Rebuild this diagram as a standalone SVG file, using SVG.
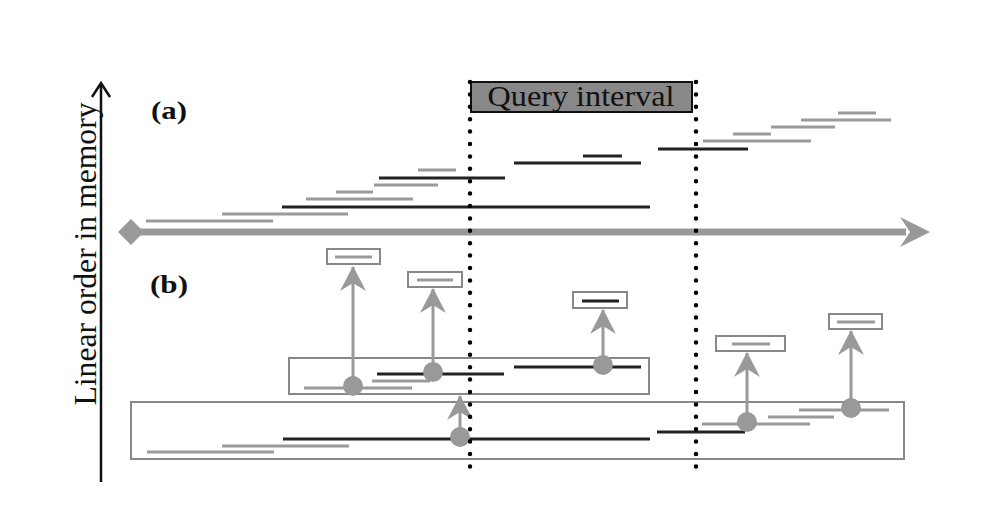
<svg xmlns="http://www.w3.org/2000/svg" width="1000" height="517" viewBox="0 0 1000 517">
<defs>
<style>
.g{stroke:#9a9a9a;stroke-width:3;fill:none}
.k{stroke:#222;stroke-width:3;fill:none}
.box{stroke:#888;stroke-width:2;fill:#fff}
.dot{stroke:#000;stroke-width:4.5;stroke-linecap:round;stroke-dasharray:0 12.4;fill:none}
.up{stroke:#999;stroke-width:3;fill:none}
.txt{font-family:"Liberation Serif","Times New Roman",serif;fill:#111}
</style>
<marker id="ah" viewBox="0 0 26 26" refX="24" refY="13" markerWidth="26" markerHeight="26" markerUnits="userSpaceOnUse" orient="auto">
<path d="M25,13 L0,0 L8,13 L0,26 Z" fill="#999"/>
</marker>
</defs>
<rect width="1000" height="517" fill="#fff"/>

<g id="y-axis">
<line x1="101" y1="482" x2="101" y2="84" stroke="#111" stroke-width="2.5"/>
<polyline points="92,97 101,83 110,97" fill="none" stroke="#111" stroke-width="2.5"/>
<text class="txt" transform="translate(96,254) rotate(-90)" text-anchor="middle" font-size="31" textLength="303" lengthAdjust="spacingAndGlyphs">Linear order in memory</text>
</g>

<g id="x-axis">
<line x1="131" y1="232" x2="906" y2="232" stroke="#999" stroke-width="7"/>
<path d="M930,232 L900,217 L910,232 L900,247 Z" fill="#999"/>
<path d="M118,232 L131,219 L144,232 L131,245 Z" fill="#999"/>
</g>

<g id="label-a"><text class="txt" x="151" y="119" font-size="26" font-weight="bold" textLength="36" lengthAdjust="spacingAndGlyphs">(a)</text></g>
<g id="label-b"><text class="txt" x="150" y="293" font-size="26" font-weight="bold" textLength="38" lengthAdjust="spacingAndGlyphs">(b)</text></g>

<g id="query-interval">
<rect x="471" y="82" width="221" height="30" fill="#888" stroke="#111" stroke-width="2"/>
<text class="txt" x="581" y="106" font-size="30" text-anchor="middle" textLength="187" lengthAdjust="spacingAndGlyphs">Query interval</text>
</g>

<g id="part-a-intervals">
<line class="g" x1="146" y1="221" x2="273" y2="221"/>
<line class="g" x1="222" y1="214" x2="348" y2="214"/>
<line class="k" x1="282" y1="207" x2="650" y2="207"/>
<line class="g" x1="306" y1="199" x2="413" y2="199"/>
<line class="g" x1="336" y1="192" x2="373" y2="192"/>
<line class="g" x1="374" y1="185" x2="438" y2="185"/>
<line class="k" x1="379" y1="178" x2="505" y2="178"/>
<line class="g" x1="418" y1="170" x2="456" y2="170"/>
<line class="k" x1="514" y1="163" x2="641" y2="163"/>
<line class="k" x1="583" y1="156" x2="622" y2="156" stroke="#444"/>
<line class="k" x1="658" y1="149" x2="748" y2="149"/>
<line class="g" x1="703" y1="141" x2="811" y2="141"/>
<line class="g" x1="733" y1="134" x2="771" y2="134"/>
<line class="g" x1="771" y1="127" x2="835" y2="127"/>
<line class="g" x1="801" y1="120" x2="891" y2="120"/>
<line class="g" x1="838" y1="113" x2="876" y2="113"/>
</g>

<g id="node-block-lower">
<rect class="box" x="131" y="402" width="773" height="57"/>
<line class="g" x1="147" y1="452" x2="274" y2="452"/>
<line class="g" x1="222" y1="446" x2="349" y2="446"/>
<line class="k" x1="283" y1="439" x2="650" y2="439"/>
<line class="k" x1="657" y1="432" x2="745" y2="432"/>
<line class="g" x1="702" y1="424" x2="810" y2="424"/>
<line class="g" x1="768" y1="417" x2="834" y2="417"/>
<line class="g" x1="799" y1="410" x2="889" y2="410"/>
</g>

<g id="node-block-upper">
<rect class="box" x="289" y="358" width="360" height="36"/>
<line class="g" x1="304" y1="388" x2="412" y2="388"/>
<line class="g" x1="372" y1="381" x2="430" y2="381"/>
<line class="k" x1="377" y1="374" x2="504" y2="374"/>
<line class="k" x1="514" y1="367" x2="641" y2="367"/>
</g>

<g id="node-leaf-1"><rect class="box" x="327" y="249" width="53" height="15"/><line class="g" x1="335" y1="257" x2="372" y2="257"/></g>
<g id="node-leaf-2"><rect class="box" x="408" y="272" width="54" height="15"/><line class="g" x1="417" y1="280" x2="453" y2="280"/></g>
<g id="node-leaf-3"><rect class="box" x="573" y="292" width="54" height="16"/><line class="k" x1="582" y1="301" x2="619" y2="301" stroke="#333"/></g>
<g id="node-leaf-4"><rect class="box" x="716" y="336" width="69" height="15"/><line class="g" x1="732" y1="344" x2="770" y2="344"/></g>
<g id="node-leaf-5"><rect class="box" x="829" y="314" width="53" height="15"/><line class="g" x1="837" y1="322" x2="875" y2="322"/></g>

<g id="connectors">
<line class="up" x1="353" y1="386" x2="353" y2="267" marker-end="url(#ah)"/>
<line class="up" x1="433" y1="372" x2="433" y2="289" marker-end="url(#ah)"/>
<line class="up" x1="603" y1="365" x2="603" y2="310" marker-end="url(#ah)"/>
<line class="up" x1="460" y1="437" x2="460" y2="396" marker-end="url(#ah)"/>
<line class="up" x1="747" y1="422" x2="747" y2="353" marker-end="url(#ah)"/>
<line class="up" x1="851" y1="408" x2="851" y2="331" marker-end="url(#ah)"/>
<circle cx="353" cy="386" r="10" fill="#999"/>
<circle cx="433" cy="372" r="10" fill="#999"/>
<circle cx="603" cy="365" r="10" fill="#999"/>
<circle cx="460" cy="437" r="10" fill="#999"/>
<circle cx="747" cy="422" r="10" fill="#999"/>
<circle cx="851" cy="408" r="10" fill="#999"/>
</g>

<g id="query-bounds">
<line class="dot" x1="470" y1="82" x2="470" y2="470"/>
<line class="dot" x1="696" y1="82" x2="696" y2="470"/>
</g>
</svg>
